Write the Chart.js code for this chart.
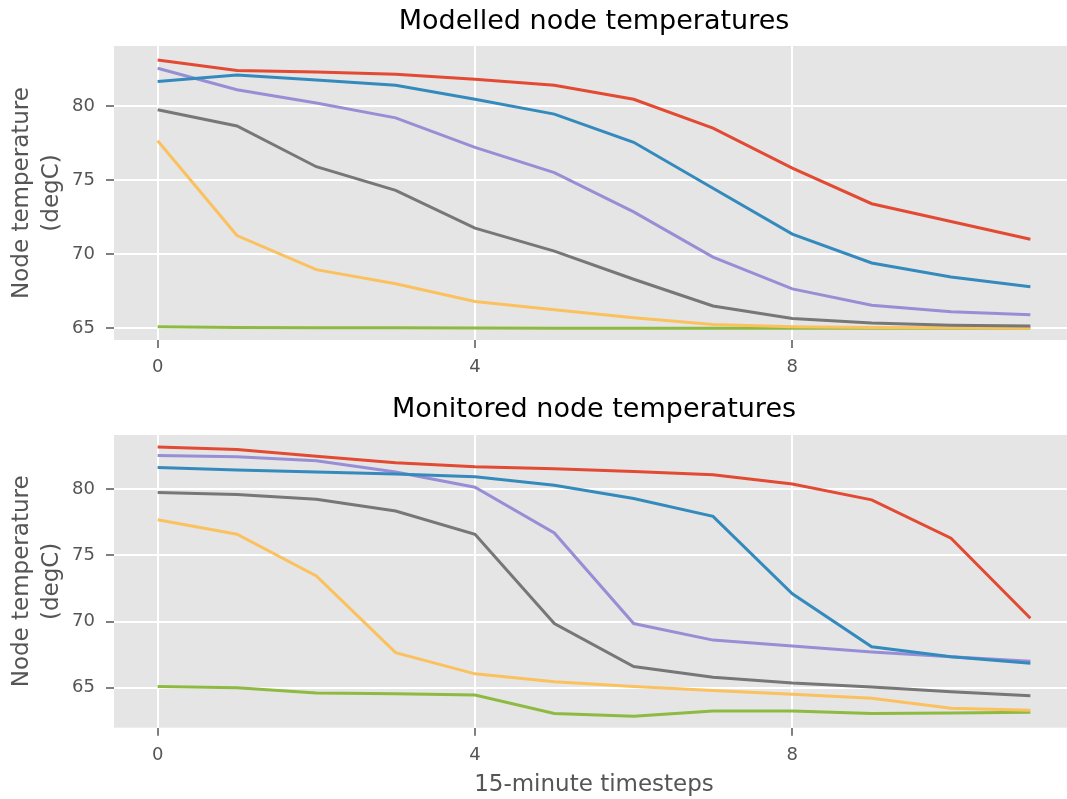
<!DOCTYPE html>
<html>
<head>
<meta charset="utf-8">
<script src="https://cdn.jsdelivr.net/npm/chart.js@4/dist/chart.umd.min.js"></script>
<style>
    html, body { margin: 0; padding: 0; background: #ffffff; overflow: hidden; }
    canvas { position: absolute; left: 0; }
    #modelled { top: 0; }
    #monitored { top: 380px; }
</style>
</head>
<body>
<canvas id="modelled" width="1188" height="380"></canvas>
<canvas id="monitored" width="1188" height="419"></canvas>
<script>
// Timesteps and tick labels
const timesteps = [0, 1, 2, 3, 4, 5, 6, 7, 8, 9, 10, 11];
const xTicks = [0, 4, 8];
const yTicks = [65, 70, 75, 80];

// Modelled node temperatures (degC)
const modelledNode1 = [83.1, 82.4, 82.3, 82.15, 81.8, 81.4, 80.45, 78.5, 75.8, 73.4, 72.2, 71.0];
const modelledNode2 = [81.65, 82.1, 81.75, 81.4, 80.45, 79.45, 77.55, 74.45, 71.35, 69.4, 68.45, 67.8];
const modelledNode3 = [82.55, 81.1, 80.2, 79.2, 77.2, 75.5, 72.85, 69.8, 67.65, 66.55, 66.1, 65.9];
const modelledNode4 = [79.75, 78.65, 75.9, 74.3, 71.75, 70.2, 68.3, 66.5, 65.65, 65.35, 65.2, 65.15];
const modelledNode5 = [77.65, 71.25, 68.95, 68.0, 66.8, 66.25, 65.7, 65.25, 65.1, 65.05, 65.02, 65.0];
const modelledNode6 = [65.1, 65.05, 65.03, 65.02, 65.01, 65.0, 65.0, 65.0, 65.0, 65.0, 65.0, 65.0];

// Monitored node temperatures (degC)
const monitoredNode1 = [83.2, 83.0, 82.5, 82.0, 81.7, 81.55, 81.35, 81.1, 80.4, 79.2, 76.3, 70.25];
const monitoredNode2 = [81.65, 81.45, 81.3, 81.15, 80.95, 80.3, 79.3, 77.95, 72.1, 68.1, 67.35, 66.85];
const monitoredNode3 = [82.55, 82.45, 82.15, 81.3, 80.15, 76.7, 69.85, 68.6, 68.15, 67.7, 67.35, 67.0];
const monitoredNode4 = [79.75, 79.6, 79.25, 78.35, 76.6, 69.85, 66.6, 65.8, 65.35, 65.05, 64.7, 64.4];
const monitoredNode5 = [77.7, 76.6, 73.45, 67.65, 66.05, 65.45, 65.1, 64.8, 64.5, 64.2, 63.45, 63.3];
const monitoredNode6 = [65.1, 65.0, 64.6, 64.55, 64.45, 63.05, 62.85, 63.25, 63.25, 63.05, 63.1, 63.15];

// ggplot style colours
const COLORS = ['#E24A33', '#348ABD', '#988ED5', '#777777', '#FBC15E', '#8EBA42'];
const FONT = 'DejaVu Sans';
const TEXT_GREY = '#555555';

// Grey panel behind the plot area
const panelBackground = {
    id: 'panelBackground',
    beforeDraw(chart) {
        const { ctx, chartArea: a } = chart;
        ctx.save();
        ctx.fillStyle = '#E5E5E5';
        ctx.fillRect(a.left, a.top, a.right - a.left, a.bottom - a.top);
        ctx.restore();
    }
};

const toPoints = (values) => values.map((v, i) => ({ x: timesteps[i], y: v }));

function buildPanel(canvasId, cfg) {
    const ctx = document.getElementById(canvasId).getContext('2d');
    return new Chart(ctx, {
        type: 'line',
        data: {
            datasets: cfg.series.map((values, i) => ({
                data: toPoints(values),
                borderColor: COLORS[i],
                borderWidth: 3,
                pointRadius: 0,
                tension: 0,
                fill: false
            }))
        },
        options: {
            responsive: false,
            animation: false,
            devicePixelRatio: 1,
            layout: { padding: 0 },
            plugins: {
                legend: { display: false },
                tooltip: { enabled: false },
                title: {
                    display: true,
                    text: cfg.title,
                    color: '#000000',
                    font: { family: FONT, size: 27, weight: 'normal' },
                    padding: cfg.titlePadding
                }
            },
            scales: {
                x: {
                    type: 'linear',
                    min: -0.55,
                    max: 11.55,
                    afterBuildTicks: (s) => { s.ticks = xTicks.map(v => ({ value: v })); },
                    afterFit: (s) => { s.height = cfg.xHeight; },
                    grid: { color: '#ffffff', lineWidth: 2, tickColor: TEXT_GREY, tickLength: 8, tickWidth: 1.5 },
                    border: { display: false },
                    ticks: { color: TEXT_GREY, font: { family: FONT, size: 18 }, padding: 9, maxRotation: 0 },
                    title: {
                        display: cfg.showXTitle,
                        text: '15-minute timesteps',
                        color: TEXT_GREY,
                        font: { family: FONT, size: 23 },
                        padding: { top: 0, bottom: 0 }
                    }
                },
                y: {
                    position: 'left',
                    min: cfg.yMin,
                    max: cfg.yMax,
                    afterBuildTicks: (s) => { s.ticks = yTicks.map(v => ({ value: v })); },
                    afterFit: (s) => { s.width = 114; },
                    grid: { color: '#ffffff', lineWidth: 2, tickColor: TEXT_GREY, tickLength: 8, tickWidth: 1.5 },
                    border: { display: false },
                    ticks: { color: TEXT_GREY, font: { family: FONT, size: 18 }, padding: 11 },
                    title: {
                        display: true,
                        text: ['Node temperature', '(degC)'],
                        color: TEXT_GREY,
                        font: { family: FONT, size: 23, lineHeight: 1.3 },
                        padding: { top: 7, bottom: 0 }
                    }
                },
                // empty axis on the right so the plot runs past the page edge
                // and the title centres over the axes like matplotlib
                pad: {
                    position: 'right',
                    display: true,
                    grid: { display: false },
                    border: { display: false },
                    ticks: { display: false },
                    afterFit: (s) => { s.width = 114; }
                }
            }
        },
        plugins: [panelBackground]
    });
}

buildPanel('modelled', {
    title: 'Modelled node temperatures',
    series: [modelledNode1, modelledNode2, modelledNode3, modelledNode4, modelledNode5, modelledNode6],
    titlePadding: { top: 6, bottom: 7.6 },
    xHeight: 40,
    showXTitle: false,
    yMin: 64.2,
    yMax: 84.05
});

buildPanel('monitored', {
    title: 'Monitored node temperatures',
    series: [monitoredNode1, monitoredNode2, monitoredNode3, monitoredNode4, monitoredNode5, monitoredNode6],
    titlePadding: { top: 13.8, bottom: 8.8 },
    xHeight: 71.3,
    showXTitle: true,
    yMin: 61.98,
    yMax: 84.1
});
</script>
</body>
</html>
